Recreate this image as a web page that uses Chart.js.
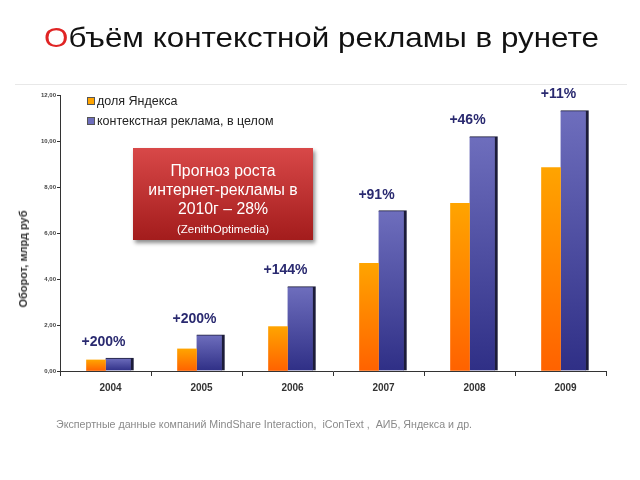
<!DOCTYPE html>
<html><head><meta charset="utf-8">
<script src="https://cdn.jsdelivr.net/npm/chart.js@4"></script>
<style>
html,body{margin:0;padding:0;width:640px;height:480px;background:#fff;overflow:hidden;font-family:'Liberation Sans',Arial,sans-serif;}
#wrap{position:relative;width:640px;height:480px;}
canvas{position:absolute;left:0;top:0;}
#title{position:absolute;left:44px;top:22px;font-size:28px;line-height:32px;color:#111;white-space:nowrap;transform:scaleX(1.12);transform-origin:0 50%;}
#title span{color:#e02424;}
#rule{position:absolute;left:15px;top:84px;width:612px;height:1px;background:#e8e8e8;}
#ytitle{position:absolute;left:23px;top:259px;transform:translate(-50%,-50%) rotate(-90deg);font-size:11px;font-weight:bold;color:#333;white-space:nowrap;}
#legend{position:absolute;left:87px;top:91px;font-size:12.5px;color:#222;}
.li{height:20px;display:flex;align-items:center;white-space:nowrap;}
.sw{width:6px;height:6px;margin-right:2px;border:1px solid #555;}
#box{position:absolute;left:133px;top:148px;width:180px;height:79px;padding-top:13px;background:linear-gradient(#d84848,#a31c1c);box-shadow:2px 3px 4px rgba(0,0,0,.45);color:#fff;text-align:center;font-size:15.8px;line-height:19px;white-space:nowrap;}
#box .s{font-size:11.5px;line-height:14px;}
#note{position:absolute;left:56px;top:418px;font-size:10px;line-height:14px;color:#8a8a8a;white-space:nowrap;transform:scaleX(1.065);transform-origin:0 50%;}
</style></head>
<body><div id="wrap">
<canvas id="c" width="640" height="480"></canvas>
<div id="title"><span>О</span>бъём контекстной рекламы в рунете</div>
<div id="rule"></div>
<div id="ytitle">Оборот, млрд руб</div>
<div id="legend"></div>
<div id="box">Прогноз роста<br>интернет-рекламы в<br>2010г – 28%<br><span class="s">(ZenithOptimedia)</span></div>
<div id="note">Экспертные данные компаний MindShare Interaction,&nbsp; iConText ,&nbsp; АИБ, Яндекса и др.</div>
</div>
<script>
const categories = ['2004','2005','2006','2007','2008','2009'];
const yandexShare = [0.48, 0.96, 1.93, 4.68, 7.29, 8.84];
const contextTotal = [0.56, 1.57, 3.67, 6.97, 10.19, 11.32];
const growthLabels = ['+200%','+200%','+144%','+91%','+46%','+11%'];
const seriesNames = ['доля Яндекса','контекстная реклама, в целом'];
const yMin = 0, yMax = 12, yStep = 2;

const orangeTop='#ffa400', orangeBottom='#ff6200';
const blueTop='#6e6ebd', blueBottom='#2f2f86';

function barGradient(top, bottom){
  return function(ctx){
    if (ctx.type !== 'data') return bottom;
    const chart = ctx.chart, ys = chart.scales && chart.scales.y;
    if (!ys) return bottom;
    const yT = ys.getPixelForValue(ctx.raw), yB = ys.getPixelForValue(0);
    if (!isFinite(yT) || !isFinite(yB) || yT === yB) return bottom;
    const g = chart.ctx.createLinearGradient(0, yT, 0, yB);
    g.addColorStop(0, top); g.addColorStop(1, bottom);
    return g;
  };
}

// legend
const lg = document.getElementById('legend');
[[orangeTop, seriesNames[0]], [blueTop, seriesNames[1]]].forEach(([c, t]) => {
  const d = document.createElement('div'); d.className = 'li';
  const s = document.createElement('span'); s.className = 'sw'; s.style.background = c;
  d.appendChild(s); d.appendChild(document.createTextNode(t)); lg.appendChild(d);
});

const growthPlugin = {
  id: 'growth',
  afterDatasetsDraw(chart){
    const meta = chart.getDatasetMeta(1), ctx = chart.ctx;
    ctx.save();
    ctx.font = 'bold 14px "Liberation Sans", Arial, sans-serif';
    ctx.fillStyle = '#2a2a70'; ctx.textAlign = 'center'; ctx.textBaseline = 'middle';
    meta.data.forEach((bar, i) => {
      const p = bar.getProps(['x','y','width'], true);
      ctx.fillText(growthLabels[i], p.x - p.width/2 - 2, p.y - 16);
    });
    ctx.restore();
  }
};

new Chart(document.getElementById('c'), {
  type: 'bar',
  data: {
    labels: categories,
    datasets: [
      { label: seriesNames[0], data: yandexShare, barThickness: 19,
        backgroundColor: barGradient(orangeTop, orangeBottom), borderWidth: 0 },
      { label: seriesNames[1], data: contextTotal, barThickness: 28,
        backgroundColor: barGradient(blueTop, blueBottom),
        borderColor: '#1c1c3a', borderWidth: {top: 1, right: 3, left: 0, bottom: 0}, borderSkipped: 'bottom' }
    ]
  },
  options: {
    responsive: false, animation: false, devicePixelRatio: 1,
    layout: { padding: { top: 95, right: 34, left: 0, bottom: 0 } },
    plugins: { legend: { display: false }, tooltip: { enabled: false } },
    scales: {
      x: {
        offset: true,
        grid: { display: true, drawOnChartArea: false, drawTicks: true, tickLength: 5, color: '#333', offset: true },
        border: { color: '#333', width: 1 },
        ticks: { font: { family: '"Liberation Sans", Arial', size: 10, weight: 'bold' }, color: '#333', padding: 6, labelOffset: 5 },
        afterFit(s){ s.height = 109; }
      },
      y: {
        min: yMin, max: yMax,
        ticks: { stepSize: yStep, font: { family: '"Liberation Sans", Arial', size: 6, weight: 'bold' }, color: '#444', padding: 1,
                 callback: v => Number(v).toFixed(2).replace('.', ',') },
        grid: { drawOnChartArea: false, tickLength: 3, color: '#333' },
        border: { color: '#333', width: 1 },
        afterFit(s){ s.width = 60; }
      }
    }
  },
  plugins: [growthPlugin]
});
</script>
</body></html>
